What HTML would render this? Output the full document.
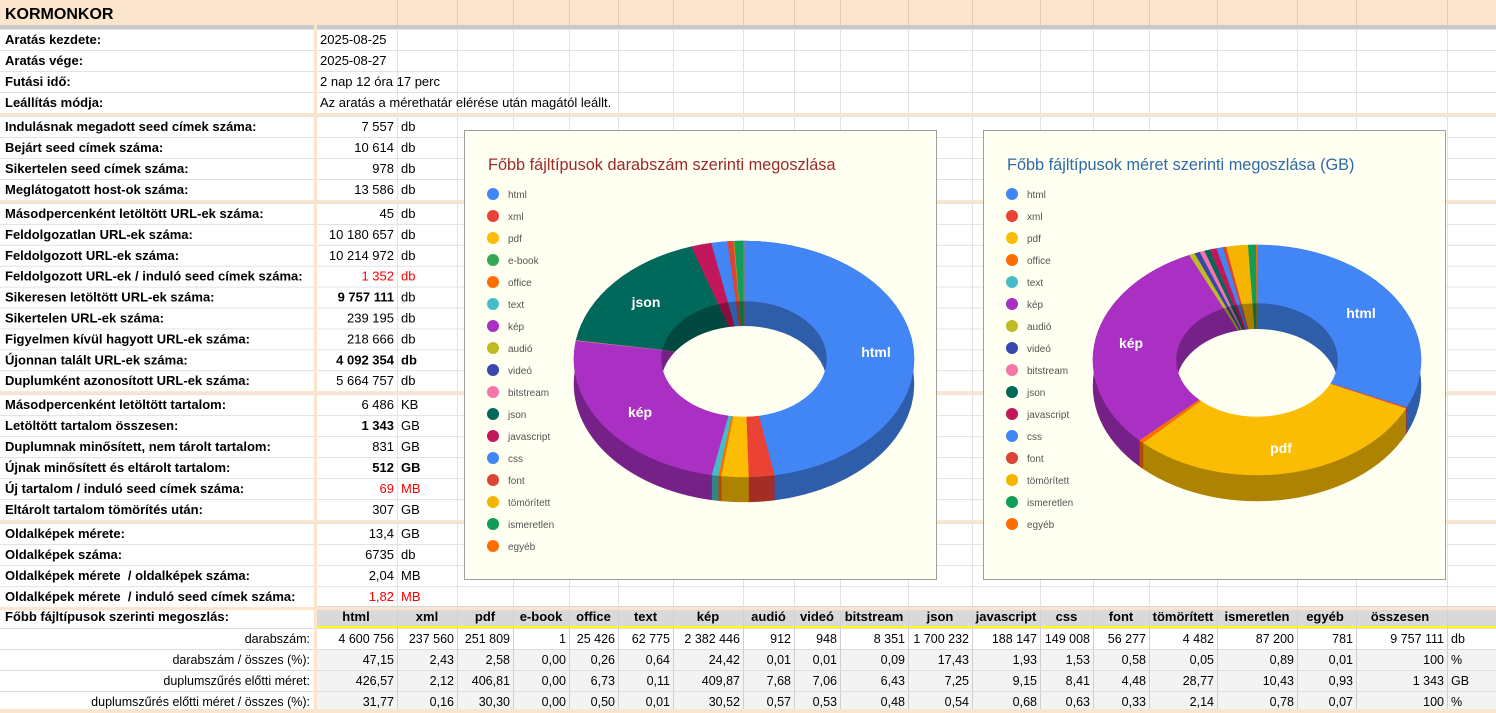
<!DOCTYPE html>
<html><head><meta charset="utf-8">
<style>
html,body{margin:0;padding:0;background:#fff;}
body{width:1496px;height:713px;position:relative;overflow:hidden;font-family:"Liberation Sans",Arial,sans-serif;font-size:13px;color:#000;}
.a{position:absolute;white-space:nowrap;}
</style></head><body>
<svg id="sv" class="a" style="left:0;top:0" width="1496" height="713" xmlns="http://www.w3.org/2000/svg"></svg>
<script>
var S=document.getElementById('sv');var NS='http://www.w3.org/2000/svg';
function el(t,at,txt){var e=document.createElementNS(NS,t);for(var k in at)e.setAttribute(k,at[k]);if(txt!=null)e.textContent=txt;S.appendChild(e);return e;}
function rect(x,y,w,h,f){el('rect',{x:x,y:y,width:w,height:h,fill:f});}
function txt(x,y,s,o){o=o||{};var a={x:x,y:y,'font-family':'Liberation Sans, Arial, sans-serif','font-size':o.fs||13,fill:o.c||'#000'};if(o.b)a['font-weight']='bold';if(o.a)a['text-anchor']=o.a;a['style']='white-space:pre';el('text',a,s);}
var cols=[0,315,397,457,513,569,618,673,743,794,840,908,972,1040,1093,1149,1217,1297,1356,1447,1496];
rect(0,0,1496,25,'#fce5cd');rect(0,25,1496,4,'#c9c9c9');
txt(5,19,'KORMONKOR',{fs:16,b:1});
var rows=[];var y=29;
function addRows(n,h){for(var i=0;i<n;i++){rows.push(y);y+=h;}}
addRows(4,21);var sep=[y];y+=3;addRows(4,21);sep.push(y);y+=3;addRows(9,20.9);sep.push(y);y+=3;addRows(6,21);sep.push(y);y+=3;addRows(4,21);sep.push(y);y+=3;
for(var i=2;i<cols.length-1;i++){rect(cols[i],0,1,25,'#e3ccb0');rect(cols[i],29,1,684,'#e2e2e2');}
rows.forEach(function(r){rect(0,r,1496,1,'#e2e2e2');});
rect(315,606,1181,20,'#d9d9d9');rect(315,626,1181,2,'#ffff00');
for(var k=1;k<4;k++)rect(315,628+k*21,1181,21,'#f3f3f3');
for(var i=2;i<cols.length-1;i++){rect(cols[i],606,1,107,'#cfcfcf');}
[628,649,670,691].forEach(function(r){rect(0,r,1496,1,'#dcdcdc');});
sep.forEach(function(s){rect(0,s,1496,3,'#fce5cd');});
rect(0,709,1496,4,'#fce5cd');
rect(314,25,3,688,'#fce5cd');
var data=[
['Aratás kezdete:','2025-08-25','','t'],['Aratás vége:','2025-08-27','','t'],['Futási idő:','2 nap 12 óra 17 perc','','t'],['Leállítás módja:','Az aratás a mérethatár elérése után magától leállt.','','t'],
['Indulásnak megadott seed címek száma:','7 557','db'],['Bejárt seed címek száma:','10 614','db'],['Sikertelen seed címek száma:','978','db'],['Meglátogatott host-ok száma:','13 586','db'],
['Másodpercenként letöltött URL-ek száma:','45','db'],['Feldolgozatlan URL-ek száma:','10 180 657','db'],['Feldolgozott URL-ek száma:','10 214 972','db'],['Feldolgozott URL-ek / induló seed címek száma:','1 352','db','r'],['Sikeresen letöltött URL-ek száma:','9 757 111','db','b'],['Sikertelen URL-ek száma:','239 195','db'],['Figyelmen kívül hagyott URL-ek száma:','218 666','db'],['Újonnan talált URL-ek száma:','4 092 354','db','bb'],['Duplumként azonosított URL-ek száma:','5 664 757','db'],
['Másodpercenként letöltött tartalom:','6 486','KB'],['Letöltött tartalom összesen:','1 343','GB','b'],['Duplumnak minősített, nem tárolt tartalom:','831','GB'],['Újnak minősített és eltárolt tartalom:','512','GB','bb'],['Új tartalom / induló seed címek száma:','69','MB','r'],['Eltárolt tartalom tömörítés után:','307','GB'],
['Oldalképek mérete:','13,4','GB'],['Oldalképek száma:','6735','db'],['Oldalképek mérete  / oldalképek száma:','2,04','MB'],['Oldalképek mérete  / induló seed címek száma:','1,82','MB','r']];
data.forEach(function(d,i){var r=rows[i];var by=r+15;
 txt(5,by,d[0],{b:1});
 if(d[3]=='t'){txt(320,by,d[1]);}
 else{var o={a:'end'};if(d[3]=='r')o.c='#ff0000';if(d[3]=='b'||d[3]=='bb')o.b=1;txt(394,by,d[1],o);
  var u={};if(d[3]=='r')u.c='#ff0000';if(d[3]=='bb')u.b=1;txt(401,by,d[2],u);}
});
var hd=['html','xml','pdf','e-book','office','text','kép','audió','videó','bitstream','json','javascript','css','font','tömörített','ismeretlen','egyéb','összesen'];
txt(5,621,'Főbb fájltípusok szerinti megoszlás:',{b:1});
hd.forEach(function(h,i){var x=(cols[i+1]+cols[i+2])/2;if(h=='összesen')x=1400;if(h=='egyéb')x=1325;txt(x,621,h,{b:1,a:'middle'});});
var bt=[['darabszám:',['4 600 756','237 560','251 809','1','25 426','62 775','2 382 446','912','948','8 351','1 700 232','188 147','149 008','56 277','4 482','87 200','781','9 757 111'],'db'],
['darabszám / összes (%):',['47,15','2,43','2,58','0,00','0,26','0,64','24,42','0,01','0,01','0,09','17,43','1,93','1,53','0,58','0,05','0,89','0,01','100'],'%'],
['duplumszűrés előtti méret:',['426,57','2,12','406,81','0,00','6,73','0,11','409,87','7,68','7,06','6,43','7,25','9,15','8,41','4,48','28,77','10,43','0,93','1 343'],'GB'],
['duplumszűrés előtti méret / összes (%):',['31,77','0,16','30,30','0,00','0,50','0,01','30,52','0,57','0,53','0,48','0,54','0,68','0,63','0,33','2,14','0,78','0,07','100'],'%']];
bt.forEach(function(r,k){var by=628+k*21+15;txt(310,by,r[0],{a:'end',fs:12.5});
 r[1].forEach(function(v,i){txt(cols[i+2]-3,by,v,{a:'end',fs:12.5});});txt(1451,by,r[2],{fs:12.5});});
var C={html:'#4285f4',xml:'#ea4335',pdf:'#fbbc04','e-book':'#34a853',office:'#ff6d01',text:'#46bdc6','kép':'#a930c2','audió':'#c0bb24','videó':'#3949ab',bitstream:'#f575a6',json:'#00695c',javascript:'#c2185b',css:'#4285f4',font:'#db4437','tömörített':'#f4b400',ismeretlen:'#0f9d58','egyéb':'#ff6d00'};
function dark(h){var n=parseInt(h.slice(1),16);var r=(n>>16)*0.7|0,g=((n>>8)&255)*0.7|0,b=(n&255)*0.7|0;return 'rgb('+r+','+g+','+b+')';}
var cid=0;
function chart(bx,by,bw,bh,title,tc,leg,vals,g,labels){
 rect(bx,by,bw,bh,'#9e9e9e');rect(bx+1,by+1,bw-2,bh-2,'#fffff2');
 txt(bx+24,by+40,title,{fs:16.3,c:tc});
 leg.forEach(function(n,i){el('circle',{cx:bx+29,cy:by+64+i*22,r:6,fill:C[n]});txt(bx+44,by+68+i*22,n,{fs:10,c:'#555'});});
 var tot=vals.reduce(function(a,b){return a+b;},0);var a=0;var sl=[];
 vals.forEach(function(v,i){if(v>0){var a2=a+v/tot*2*Math.PI;sl.push([a,a2,C[leg[i]]]);a=a2;}});
 var cx=g.cx,cy=g.cy,rx=g.rx,ry=g.ry,ix=g.ix,iy=g.iy,d=g.d;
 function P(ax,ay,t,dy){return (cx+ax*Math.sin(t)).toFixed(2)+' '+(cy+dy-ay*Math.cos(t)).toFixed(2);}
 sl.forEach(function(s){var L=(s[1]-s[0])>Math.PI?1:0;
  el('path',{d:'M'+P(rx,ry,s[0],0)+' A'+rx+' '+ry+' 0 '+L+' 1 '+P(rx,ry,s[1],0)+' L'+P(rx,ry,s[1],d)+' A'+rx+' '+ry+' 0 '+L+' 0 '+P(rx,ry,s[0],d)+'Z',fill:dark(s[2]),stroke:dark(s[2]),'stroke-width':0.5});});
 sl.forEach(function(s){var L=(s[1]-s[0])>Math.PI?1:0;
  el('path',{d:'M'+cx+' '+cy+' L'+P(ix,iy,s[0],0)+' A'+ix+' '+iy+' 0 '+L+' 1 '+P(ix,iy,s[1],0)+'Z',fill:dark(s[2]),stroke:dark(s[2]),'stroke-width':0.5});});
 cid++;var cp=el('clipPath',{id:'cp'+cid});var e=document.createElementNS(NS,'ellipse');e.setAttribute('cx',cx);e.setAttribute('cy',cy);e.setAttribute('rx',ix);e.setAttribute('ry',iy);cp.appendChild(e);
 el('ellipse',{cx:cx,cy:cy+d,rx:ix,ry:iy,fill:'#fffff2','clip-path':'url(#cp'+cid+')'});
 sl.forEach(function(s){var L=(s[1]-s[0])>Math.PI?1:0;
  el('path',{d:'M'+P(rx,ry,s[0],0)+' A'+rx+' '+ry+' 0 '+L+' 1 '+P(rx,ry,s[1],0)+' L'+P(ix,iy,s[1],0)+' A'+ix+' '+iy+' 0 '+L+' 0 '+P(ix,iy,s[0],0)+'Z',fill:s[2],stroke:s[2],'stroke-width':0.5});});
 labels.forEach(function(l){txt(l[1],l[2],l[0],{fs:14,b:1,c:'#fff',a:'middle'});});
}
var leg1=['html','xml','pdf','e-book','office','text','kép','audió','videó','bitstream','json','javascript','css','font','tömörített','ismeretlen','egyéb'];
chart(464,130,473,450,'Főbb fájltípusok darabszám szerinti megoszlása','#9c2a2a',leg1,
 [47.15,2.43,2.58,0.0001,0.26,0.64,24.42,0.01,0.01,0.09,17.43,1.93,1.53,0.58,0.05,0.89,0.01],
 {cx:744,cy:359,rx:170,ry:118,ix:83,iy:58,d:25},[['html',876,357],['json',646,307],['kép',640,417]]);
var leg2=['html','xml','pdf','office','text','kép','audió','videó','bitstream','json','javascript','css','font','tömörített','ismeretlen','egyéb'];
chart(983,130,463,450,'Főbb fájltípusok méret szerinti megoszlása (GB)','#2f6aa8',leg2,
 [31.77,0.16,30.30,0.50,0.01,30.52,0.57,0.53,0.48,0.54,0.68,0.63,0.33,2.14,0.78,0.07],
 {cx:1257,cy:360,rx:164,ry:115,ix:81,iy:57,d:26},[['html',1361,318],['pdf',1281,453],['kép',1131,348]]);
</script>
</body></html>
